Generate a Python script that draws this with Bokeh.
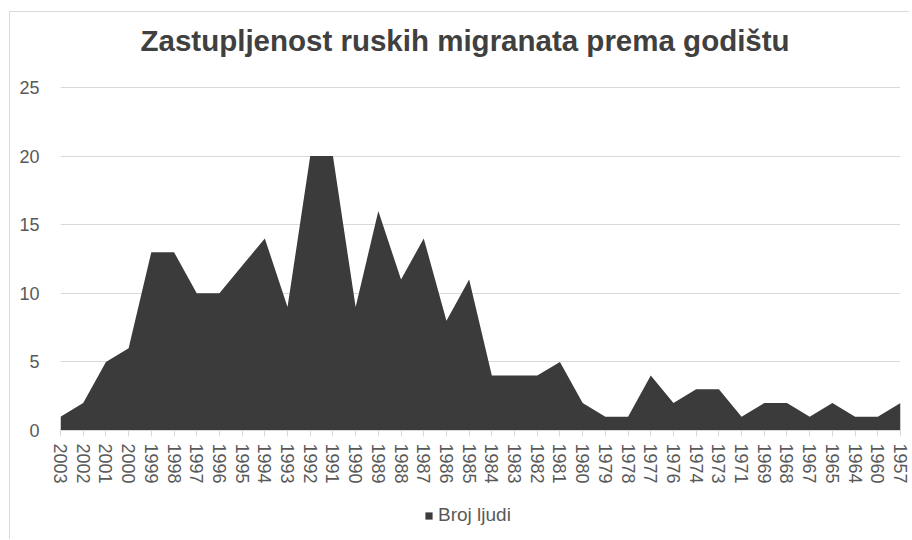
from bokeh.plotting import figure
from bokeh.models import (FixedTicker, Legend, LegendItem, Title, Range1d, ColumnDataSource)
from bokeh.layouts import column
from bokeh.embed import file_html
from bokeh.resources import INLINE

# ---- data ----
years = ["2003", "2002", "2001", "2000", "1999", "1998", "1997", "1996", "1995", "1994",
         "1993", "1992", "1991", "1990", "1989", "1988", "1987", "1986", "1985", "1984",
         "1983", "1982", "1981", "1980", "1979", "1978", "1977", "1976", "1974", "1973",
         "1971", "1969", "1968", "1967", "1965", "1964", "1960", "1957"]
counts = [1, 2, 5, 6, 13, 13, 10, 10, 12, 14,
          9, 20, 20, 9, 16, 11, 14, 8, 11, 4,
          4, 4, 5, 2, 1, 1, 4, 2, 3, 3,
          1, 2, 2, 1, 2, 1, 1, 2]
y_ticks = [0, 5, 10, 15, 20, 25]
title_text = "Zastupljenost ruskih migranata prema godištu"
series_name = "Broj ljudi"

FONT = "Liberation Sans"
GRID = "#d9d9d9"
TXT = "#595959"
AREA = "#3b3b3b"

idx = list(range(len(years)))
src = ColumnDataSource(dict(x=idx, y=counts, y0=[0] * len(counts)))

# ---- main chart ----
p = figure(width=900, height=488, output_backend="svg", toolbar_location=None,
           x_range=Range1d(0, len(years) - 1), y_range=Range1d(0, 26.53),
           min_border_left=50, min_border_right=10, min_border_top=0, min_border_bottom=70,
           background_fill_color="white", border_fill_color="white")
p.margin = (11, 0, 0, 9)
p.styles = {"border-left": "1px solid #d9d9d9", "border-top": "1px solid #d9d9d9"}
p.outline_line_color = None

p.varea(x="x", y1="y0", y2="y", source=src, fill_color=AREA)

p.title = Title(text=title_text, align="left", offset=80, text_font=FONT, text_font_size="29.5px",
                text_font_style="bold", text_color="#404040", standoff=19)

p.yaxis.ticker = FixedTicker(ticks=y_ticks)
p.yaxis.axis_line_color = None
p.yaxis.major_tick_line_color = None
p.yaxis.minor_tick_line_color = None
p.yaxis.major_label_standoff = 15
p.yaxis.major_label_text_font = FONT
p.yaxis.major_label_text_font_size = "18px"
p.yaxis.major_label_text_color = TXT

p.xaxis.ticker = FixedTicker(ticks=idx)
p.xaxis.major_label_overrides = {i: y for i, y in zip(idx, years)}
p.xaxis.major_label_orientation = "vertical"
p.xaxis.axis_line_color = GRID
p.xaxis.major_tick_line_color = GRID
p.xaxis.major_tick_out = 6
p.xaxis.major_tick_in = 0
p.xaxis.minor_tick_line_color = None
p.xaxis.major_label_standoff = 7
p.xaxis.major_label_text_font = FONT
p.xaxis.major_label_text_font_size = "18px"
p.xaxis.major_label_text_color = TXT

p.xgrid.grid_line_color = None
p.ygrid.ticker = FixedTicker(ticks=y_ticks)
p.ygrid.grid_line_color = GRID
p.ygrid.grid_line_width = 1

# ---- legend strip ----
q = figure(width=900, height=40, output_backend="svg", toolbar_location=None,
           x_range=Range1d(-10, -9), y_range=Range1d(0, 1),
           x_axis_location=None, y_axis_location=None,
           min_border_left=0, min_border_right=0, min_border_top=0, min_border_bottom=0,
           background_fill_color="white", border_fill_color="white")
q.margin = (0, 0, 0, 9)
q.styles = {"border-left": "1px solid #d9d9d9"}
q.outline_line_color = None
q.grid.grid_line_color = None
rq = q.varea(x="x", y1="y0", y2="y", source=src, fill_color=AREA)

legend = Legend(items=[LegendItem(label=series_name, renderers=[rq])],
                location=(364, 13), orientation="horizontal",
                glyph_width=9, glyph_height=9, label_standoff=5, padding=0, margin=0,
                border_line_color=None, background_fill_alpha=0,
                label_text_font=FONT, label_text_font_size="19px", label_text_color=TXT)
q.add_layout(legend, "center")

layout = column(p, q, spacing=0)
open("out.html", "w").write(file_html(layout, INLINE))
